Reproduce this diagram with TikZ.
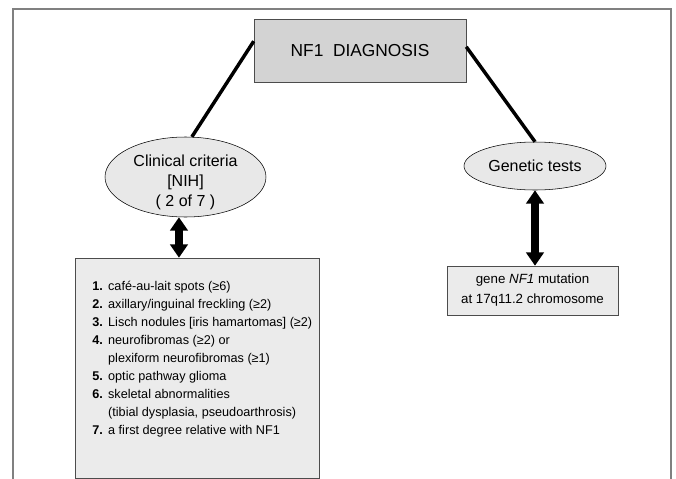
\documentclass[tikz,border=0pt]{standalone}
\usepackage{fontspec}
\setmainfont{Liberation Sans}
\usetikzlibrary{shapes}
\usetikzlibrary{arrows.meta}
\definecolor{boxgray}{RGB}{211,211,211}
\definecolor{ovalgray}{RGB}{232,232,232}
\definecolor{listgray}{RGB}{235,235,235}
\definecolor{framegray}{RGB}{128,128,128}

\begin{document}
\begin{tikzpicture}[x=0.75pt,y=0.75pt,yscale=-1,
    topbox/.style={draw=black!70,fill=boxgray,inner sep=0pt},
    oval/.style={ellipse,draw,fill=ovalgray,inner sep=0pt},
    listbox/.style={draw=black!70,fill=listgray,inner sep=0pt},
    link/.style={line width=2.6pt},
    bigarrow/.style={line width=5.5pt,{Triangle[length=10pt,width=13pt]}-{Triangle[length=10pt,width=13pt]}}]
        \useasboundingbox (0,0) rectangle (676,479);
        %Frame open at the bottom
        \draw[framegray,line width=1.5pt] (13,479) -- (13,9) -- (671,9) -- (671,479);

        %Shape: Rectangle [diagnosis]
        \node[topbox,minimum width=159pt,minimum height=47.25pt,font=\fontsize{13}{15}\selectfont] (diag) at (360,50.5) {NF1\ \ DIAGNOSIS};
        %Shape: Ellipse [clinical]
        \node[oval,minimum width=120.75pt,minimum height=60pt] (clinical) at (185.5,177) {};
        %Shape: Ellipse [genetic]
        \node[oval,minimum width=106.5pt,minimum height=36pt,font=\fontsize{12}{15}\selectfont] (genetic) at (535,166) {Genetic tests};
        %Shape: Rectangle [criteria]
        \node[listbox,minimum width=183pt,minimum height=165pt] (criteria) at (197,368) {};
        %Shape: Rectangle [gene]
        \node[listbox,minimum width=128.25pt,minimum height=36.75pt,align=center,font=\fontsize{10}{15}\selectfont] (gene) at (532.5,290.5) {gene \textit{NF1} mutation\\ at 17q11.2 chromosome};

        % Text Node
        \node[align=center,font=\fontsize{12}{15}\selectfont] (clinicaltxt) at (185.5,182) {Clinical criteria\\ {[NIH]}\\ ( 2 of 7 )};
        % Text Node
        \node[anchor=north west,inner sep=0pt,font=\fontsize{9.5}{13.5}\selectfont] (criterialist) at (92,278) {%
            \begin{tabular}{@{}l@{\hspace{4pt}}l@{}}
            \textbf{1.} & café-au-lait spots (≥6)\\
            \textbf{2.} & axillary/inguinal freckling (≥2)\\
            \textbf{3.} & Lisch nodules [iris hamartomas] (≥2)\\
            \textbf{4.} & neurofibromas (≥2) or\\
                        & plexiform neurofibromas (≥1)\\
            \textbf{5.} & optic pathway glioma\\
            \textbf{6.} & skeletal abnormalities\\
                        & (tibial dysplasia, pseudoarthrosis)\\
            \textbf{7.} & a first degree relative with NF1
            \end{tabular}};

        %Straight Lines
        \draw[link] (diag.175) -- (clinical.81);
        %Straight Lines
        \draw[link] (diag.2) -- (genetic.north);
        %Double Arrows
        \coordinate (cltop) at ([xshift=-4.9pt]clinical.south);
        \draw[bigarrow] (cltop) -- (cltop |- criteria.north);
        \draw[bigarrow] (genetic.south) -- (genetic.south |- gene.north);
\end{tikzpicture}
\end{document}
